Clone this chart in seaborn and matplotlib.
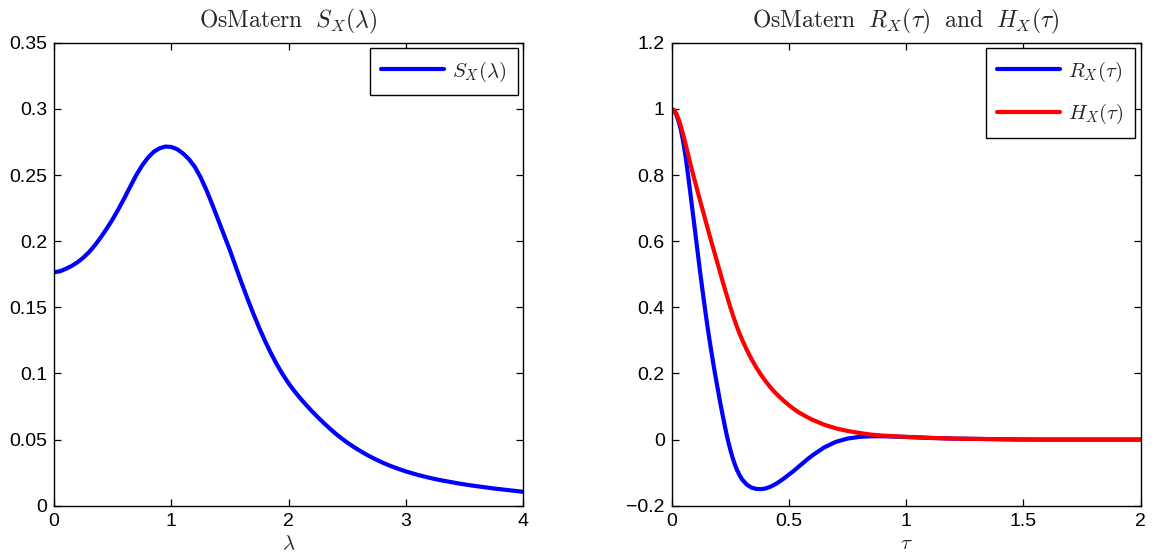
import numpy as np
import pandas as pd
import matplotlib
matplotlib.use("Agg")
import matplotlib.pyplot as plt
from matplotlib.ticker import FuncFormatter, MultipleLocator
import seaborn as sns

# Spectral density S_X(lambda)
lam = [0.00, 0.05, 0.10, 0.15, 0.20, 0.25, 0.30, 0.35, 0.40, 0.45,
       0.50, 0.55, 0.60, 0.65, 0.70, 0.75, 0.80, 0.85, 0.90, 0.95,
       1.00, 1.05, 1.10, 1.15, 1.20, 1.25, 1.30, 1.35, 1.40, 1.45,
       1.50, 1.55, 1.60, 1.65, 1.70, 1.75, 1.80, 1.85, 1.90, 1.95,
       2.00, 2.05, 2.10, 2.15, 2.20, 2.25, 2.30, 2.35, 2.40, 2.45,
       2.50, 2.55, 2.60, 2.65, 2.70, 2.75, 2.80, 2.85, 2.90, 2.95,
       3.00, 3.05, 3.10, 3.15, 3.20, 3.25, 3.30, 3.35, 3.40, 3.45,
       3.50, 3.55, 3.60, 3.65, 3.70, 3.75, 3.80, 3.85, 3.90, 3.95, 4.00]
S_X = [0.1765, 0.1772, 0.1790, 0.1812, 0.1840, 0.1875, 0.1918, 0.1970, 0.2030, 0.2095,
       0.2165, 0.2243, 0.2325, 0.2412, 0.2497, 0.2570, 0.2630, 0.2675, 0.2702, 0.2715,
       0.2712, 0.2695, 0.2663, 0.2620, 0.2562, 0.2482, 0.2385, 0.2275, 0.2160, 0.2045,
       0.1930, 0.1805, 0.1682, 0.1563, 0.1450, 0.1343, 0.1243, 0.1151, 0.1067, 0.0992,
       0.0925, 0.0865, 0.0811, 0.0761, 0.0713, 0.0668, 0.0625, 0.0584, 0.0545, 0.0510,
       0.0477, 0.0447, 0.0419, 0.0393, 0.0369, 0.0347, 0.0326, 0.0307, 0.0290, 0.0274,
       0.0259, 0.0246, 0.0233, 0.0222, 0.0211, 0.0201, 0.0192, 0.0184, 0.0176, 0.0168,
       0.0161, 0.0154, 0.0148, 0.0142, 0.0136, 0.0130, 0.0125, 0.0120, 0.0115, 0.0110, 0.0105]

# Covariance R_X(tau) and H_X(tau)
tau = [0.00, 0.01, 0.02, 0.03, 0.04, 0.05, 0.06, 0.07, 0.08, 0.09,
       0.10, 0.11, 0.12, 0.13, 0.14, 0.15, 0.16, 0.17, 0.18, 0.19,
       0.20, 0.21, 0.22, 0.23, 0.24, 0.25, 0.26, 0.27, 0.28, 0.29,
       0.30, 0.32, 0.34, 0.36, 0.38, 0.40, 0.42, 0.44, 0.46, 0.48,
       0.50, 0.52, 0.54, 0.56, 0.58, 0.60, 0.65, 0.70, 0.75, 0.80,
       0.85, 0.90, 0.95, 1.00, 1.10, 1.20, 1.30, 1.40, 1.50, 1.60,
       1.70, 1.80, 1.90, 2.00]
R_X = [1.000, 0.995, 0.982, 0.962, 0.935, 0.898, 0.853, 0.800, 0.744, 0.687,
       0.630, 0.572, 0.515, 0.460, 0.407, 0.356, 0.308, 0.263, 0.220, 0.179,
       0.140, 0.101, 0.065, 0.030, -0.002, -0.030, -0.055, -0.076, -0.094, -0.108,
       -0.120, -0.136, -0.145, -0.149, -0.150, -0.148, -0.143, -0.136, -0.127, -0.117,
       -0.106, -0.095, -0.083, -0.071, -0.059, -0.048, -0.024, -0.007, 0.003, 0.008,
       0.010, 0.010, 0.009, 0.008, 0.005, 0.003, 0.002, 0.001, 0.000, 0.000,
       0.000, 0.000, 0.000, 0.000]
H_X = [1.000, 0.996, 0.986, 0.968, 0.946, 0.920, 0.892, 0.863, 0.834, 0.806,
       0.779, 0.752, 0.726, 0.700, 0.674, 0.648, 0.622, 0.597, 0.572, 0.547,
       0.522, 0.497, 0.472, 0.448, 0.424, 0.401, 0.379, 0.358, 0.338, 0.320,
       0.303, 0.272, 0.244, 0.219, 0.197, 0.177, 0.159, 0.143, 0.129, 0.116,
       0.104, 0.093, 0.083, 0.075, 0.067, 0.060, 0.045, 0.034, 0.026, 0.020,
       0.015, 0.012, 0.010, 0.008, 0.005, 0.003, 0.002, 0.001, 0.0005, 0.000,
       0.000, 0.000, 0.000, 0.000]

sns.set_style("ticks")
plt.rcParams["font.family"] = ["Liberation Sans", "DejaVu Sans"]
plt.rcParams["mathtext.fontset"] = "cm"
plt.rcParams["axes.linewidth"] = 1.0

fig = plt.figure(figsize=(11.58, 5.57), dpi=100)
ax1 = fig.add_axes([0.0466, 0.0921, 0.4053, 0.8312])
ax2 = fig.add_axes([0.5800, 0.0921, 0.4050, 0.8312])

spec = pd.DataFrame({"lam": lam, "S": S_X})
cov = pd.DataFrame({"tau": tau, "R": R_X, "H": H_X})

sns.lineplot(data=spec, x="lam", y="S", ax=ax1, color=(0, 0, 1), lw=3,
             label=r"$S_X(\lambda)$")
sns.lineplot(data=cov, x="tau", y="R", ax=ax2, color=(0, 0, 1), lw=3,
             label=r"$R_X(\tau)$")
sns.lineplot(data=cov, x="tau", y="H", ax=ax2, color=(1, 0, 0), lw=3,
             label=r"$H_X(\tau)$")


def matlab_fmt(v, pos):
    s = "%g" % round(v, 6)
    if s == "-0":
        s = "0"
    return s.replace("-", "\u2212")


def style(ax, xlim, ylim, xstep, ystep, xlabel, title, labelspacing):
    ax.set_xlim(*xlim)
    ax.set_ylim(*ylim)
    ax.xaxis.set_major_locator(MultipleLocator(xstep))
    ax.yaxis.set_major_locator(MultipleLocator(ystep))
    ax.xaxis.set_major_formatter(FuncFormatter(matlab_fmt))
    ax.yaxis.set_major_formatter(FuncFormatter(matlab_fmt))
    ax.tick_params(direction="in", length=5, width=0.9, top=True, right=True,
                   labelsize=14, colors="black", pad=5)
    for sp in ax.spines.values():
        sp.set_visible(True)
        sp.set_color("black")
        sp.set_linewidth(1.0)
    ax.set_xlabel(xlabel, fontsize=15, labelpad=3)
    ax.set_ylabel("")
    ax.set_title(title, fontsize=17, pad=11)
    leg = ax.legend(loc="upper right", fontsize=15, frameon=True, fancybox=False,
                    edgecolor="black", framealpha=1, handlelength=3.0,
                    borderaxespad=0.25, borderpad=0.55, labelspacing=labelspacing,
                    handletextpad=0.4)
    leg.get_frame().set_linewidth(1.0)
    for line in leg.get_lines():
        line.set_linewidth(3)


style(ax1, (0, 4), (0, 0.35), 1, 0.05, r"$\lambda$",
      r"$\mathrm{OsMatern}\ \ S_X(\lambda)$", 0.55)
style(ax2, (0, 2), (-0.2, 1.2), 0.5, 0.2, r"$\tau$",
      r"$\mathrm{OsMatern}\ \ R_X(\tau)\ \ \mathrm{and}\ \ H_X(\tau)$", 0.9)

fig.savefig("out.png", dpi=100, facecolor="white")
